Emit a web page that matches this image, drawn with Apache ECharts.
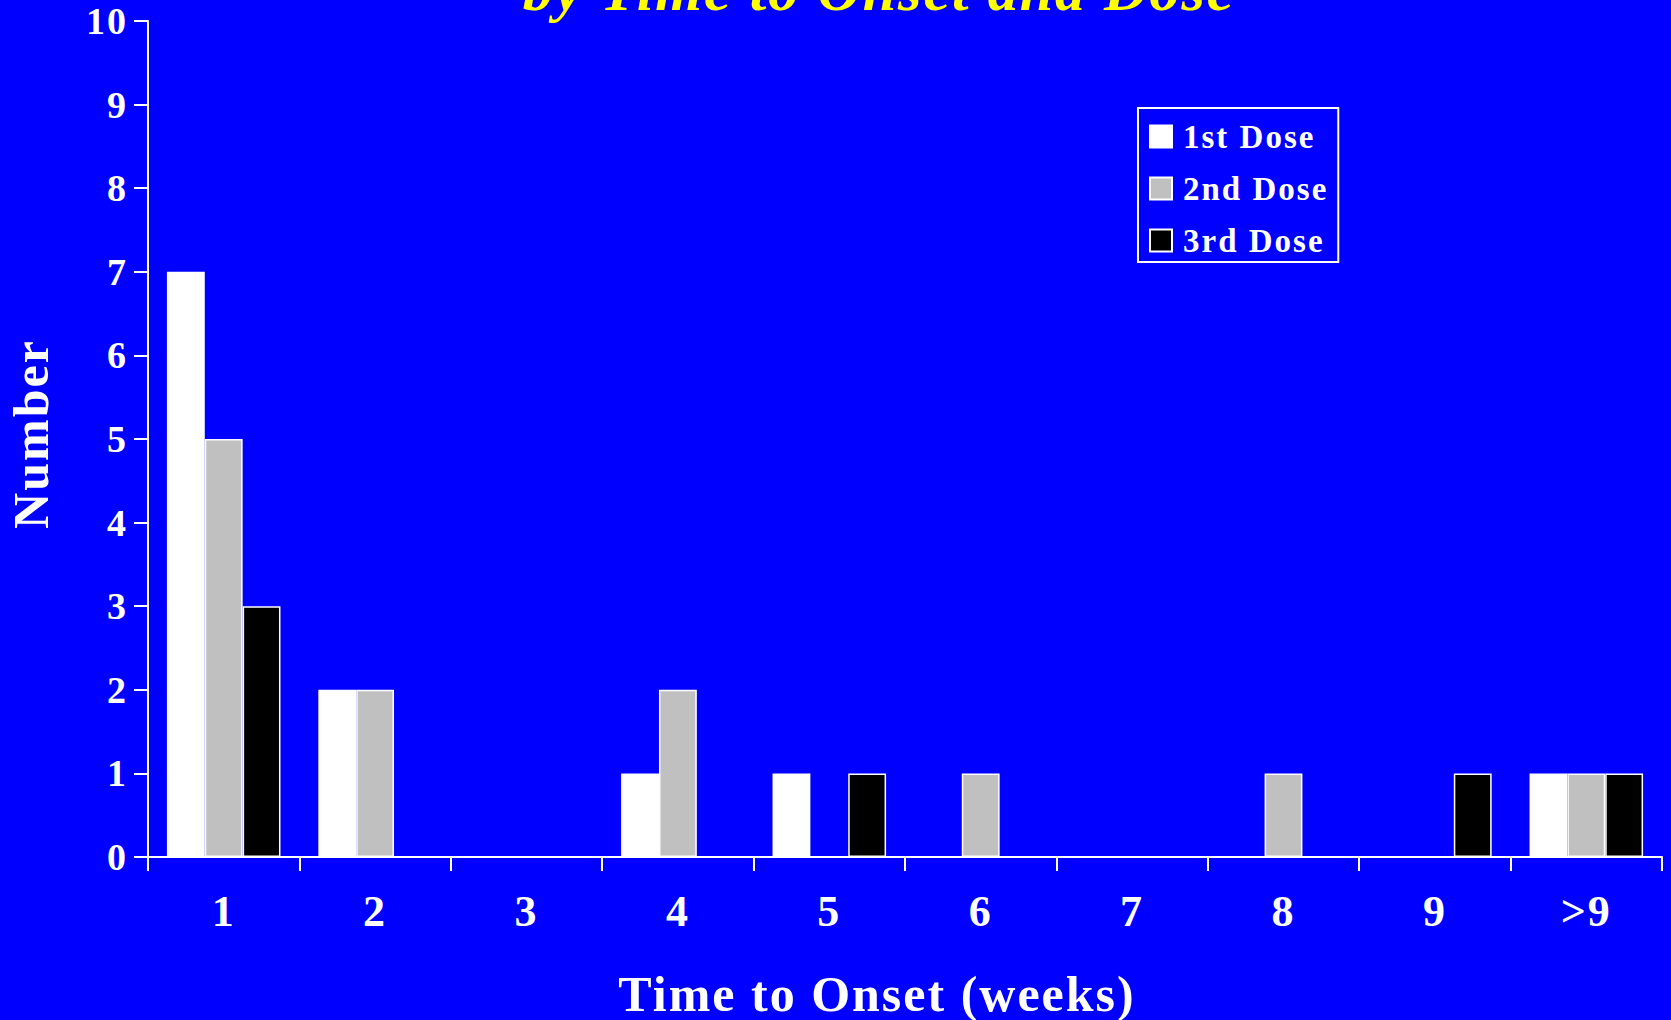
<!DOCTYPE html>
<html>
<head>
<meta charset="utf-8">
<script src="https://cdn.jsdelivr.net/npm/echarts@6/dist/echarts.min.js"></script>
<style>
  html, body { margin: 0; padding: 0; background: #0000FF; }
  #chart { width: 1671px; height: 1020px; }
  #chart text { letter-spacing: 2px; }
</style>
</head>
<body>
<div id="chart"></div>
<script>
var categories = ['1', '2', '3', '4', '5', '6', '7', '8', '9', '>9'];
var firstDose  = [7, 2, 0, 1, 1, 0, 0, 0, 0, 1];
var secondDose = [5, 2, 0, 2, 0, 1, 0, 1, 0, 1];
var thirdDose  = [3, 0, 0, 0, 1, 0, 0, 0, 1, 1];
var seriesNames = ['1st Dose', '2nd Dose', '3rd Dose'];
var yTicks = [0, 10, 1];
var titleText = 'by Time to Onset and Dose';
var xName = 'Time to Onset (weeks)';
var yName = 'Number';

var FONT = '"Liberation Serif", "Times New Roman", serif';
var chart = echarts.init(document.getElementById('chart'), null, { renderer: 'svg' });

function bar(name, data, color) {
  return {
    name: name, type: 'bar', data: data,
    barGap: '0%', barCategoryGap: '25%',
    itemStyle: { color: color, borderColor: '#FFFFFF', borderWidth: 1.5 },
    emphasis: { disabled: true },
    animation: false
  };
}

chart.setOption({
  backgroundColor: '#0000FF',
  animation: false,
  graphic: [{
    type: 'text', x: 879, y: 20,
    style: {
      text: titleText, fill: '#FFFF00',
      font: 'italic bold 60px ' + FONT,
      align: 'center', verticalAlign: 'bottom'
    }
  }],
  legend: {
    orient: 'vertical',
    left: 1138, top: 108,
    padding: [12, 26, 5, 11],
    itemGap: 19,
    itemWidth: 22, itemHeight: 22,
    borderColor: '#FFFFFF', borderWidth: 2,
    icon: 'rect',
    selectedMode: false,
    textStyle: { color: '#FFFFFF', fontFamily: FONT, fontWeight: 'bold', fontSize: 33, padding: [0, 0, 0, 6] },
    data: seriesNames
  },
  grid: { left: 148, right: 9, top: 21, bottom: 163, containLabel: false, outerBoundsMode: 'none' },
  xAxis: {
    type: 'category', data: categories,
    axisLine: { lineStyle: { color: '#FFFFFF', width: 2 } },
    axisTick: { show: true, length: 14, alignWithLabel: false, lineStyle: { color: '#FFFFFF', width: 2 } },
    axisLabel: { color: '#FFFFFF', fontFamily: FONT, fontWeight: 'bold', fontSize: 44, margin: 32 },
    name: xName, nameLocation: 'middle', nameGap: 117,
    nameTextStyle: { color: '#FFFFFF', fontFamily: FONT, fontWeight: 'bold', fontSize: 50, lineHeight: 40, padding: [0, 56, 0, 0] }
  },
  yAxis: {
    type: 'value', min: yTicks[0], max: yTicks[1], interval: yTicks[2],
    splitLine: { show: false },
    axisLine: { show: true, lineStyle: { color: '#FFFFFF', width: 2 } },
    axisTick: { show: true, length: 14, lineStyle: { color: '#FFFFFF', width: 2 } },
    axisLabel: { color: '#FFFFFF', fontFamily: FONT, fontWeight: 'bold', fontSize: 38, margin: 20 },
    name: yName, nameLocation: 'middle', nameGap: 92,
    nameTextStyle: { color: '#FFFFFF', fontFamily: FONT, fontWeight: 'bold', fontSize: 50, padding: [0, 0, 0, 10] }
  },
  series: [
    bar(seriesNames[0], firstDose, '#FFFFFF'),
    bar(seriesNames[1], secondDose, '#C0C0C0'),
    bar(seriesNames[2], thirdDose, '#000000')
  ]
});
</script>
</body>
</html>
